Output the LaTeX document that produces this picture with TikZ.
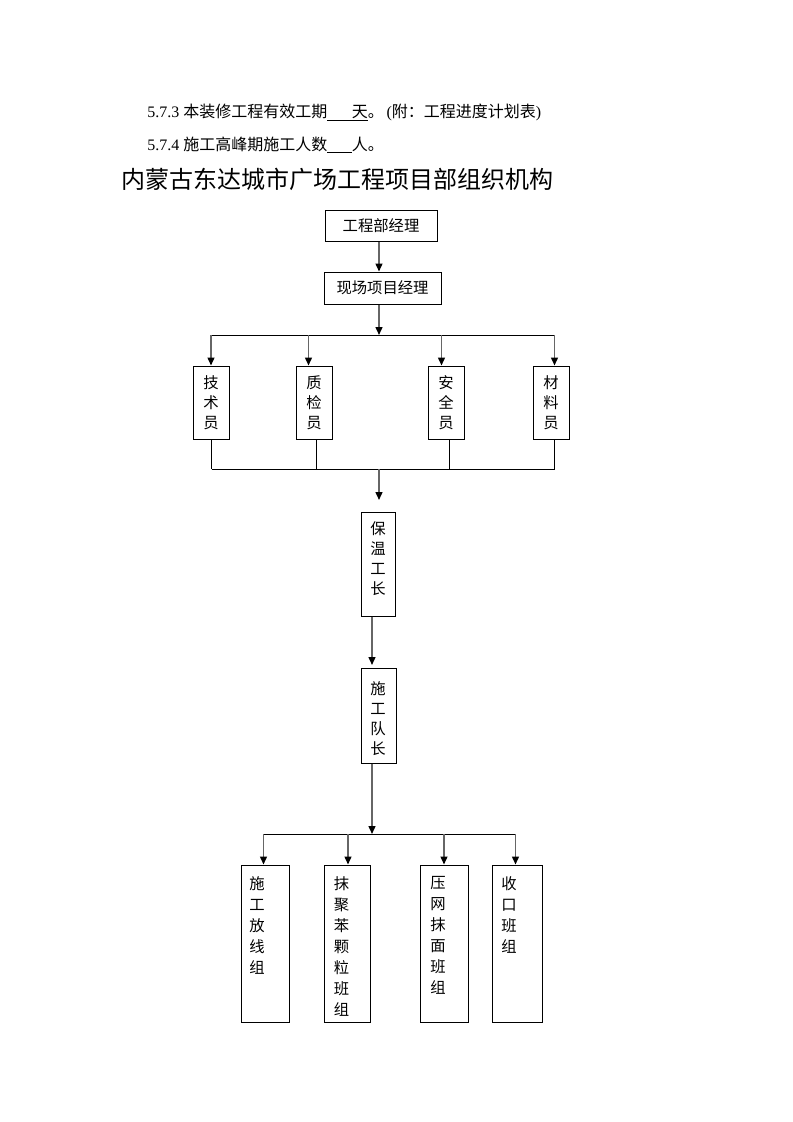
\documentclass[tikz,border=0pt]{standalone}
\usepackage{fontspec}
\setmainfont{Liberation Serif}
\newfontfamily\cjk{Noto Sans CJK SC}
\usetikzlibrary{arrows.meta}
\begin{document}
\begin{tikzpicture}[x=0.75pt,y=-0.75pt,
  box/.style={draw, line width=0.75pt, inner sep=0pt},
  arr/.style={-{Triangle[width=5.2pt,length=6pt,color=black]}, line width=1.2pt, draw=black!60},
  ln/.style={line width=0.75pt},
  hbox/.style={box, font=\cjk\fontsize{11.5}{14}\selectfont},
  vt/.style={font=\cjk\fontsize{11.5}{15}\selectfont, align=center, inner sep=0pt},
  vtb/.style={font=\cjk\fontsize{11.5}{15.75}\selectfont, align=center, inner sep=0pt},
  para/.style={font=\fontsize{12}{14}\selectfont, inner sep=0pt, anchor=base west}
]
\useasboundingbox (0,0) rectangle (793,1122);

% header text
\node[para] (l1) at (147,117) {5.7.3 {\cjk 本装修工程有效工期}\underline{\hspace{18.5pt}{\cjk 天}}{\cjk 。}\,({\cjk 附：工程进度计划表})};
\node[para] (l2) at (147,150) {5.7.4 {\cjk 施工高峰期施工人数}\underline{\hspace{18.5pt}}{\cjk 人。}};
\node[inner sep=0pt, anchor=base west, font=\cjk\fontsize{18}{20}\selectfont] (title) at (121,188) {内蒙古东达城市广场工程项目部组织机构};

% top boxes
\node[hbox, minimum width=84pt, minimum height=23.25pt] (gc) at (381,225.5) {工程部经理};
\node[hbox, minimum width=87.75pt, minimum height=24pt] (xc) at (382.5,288) {现场项目经理};

% staff boxes
\node[box, minimum width=27pt, minimum height=54.75pt] (js) at (211,402.5) {};
\node[box, minimum width=27pt, minimum height=54.75pt] (zj) at (314,402.5) {};
\node[box, minimum width=27pt, minimum height=54.75pt] (aq) at (446,402.5) {};
\node[box, minimum width=27pt, minimum height=54.75pt] (cl) at (551,402.5) {};
\node[vt] (tjs) at (211,403) {技\\术\\员};
\node[vt] (tzj) at (314,403) {质\\检\\员};
\node[vt] (taq) at (446,403) {安\\全\\员};
\node[vt] (tcl) at (551,403) {材\\料\\员};

% foremen
\node[box, minimum width=25.5pt, minimum height=78pt] (bw) at (378,564) {};
\node[vt] (tbw) at (378,558.5) {保\\温\\工\\长};
\node[box, minimum width=26.25pt, minimum height=71.25pt] (sd) at (378.5,715.5) {};
\node[vt] (tsd) at (378,719) {施\\工\\队\\长};

% team boxes
\node[box, minimum width=36pt, minimum height=117.75pt] (g1) at (265,943.5) {};
\node[box, minimum width=34.5pt, minimum height=117.75pt] (g2) at (347,943.5) {};
\node[box, minimum width=36pt, minimum height=117.75pt] (g3) at (444,943.5) {};
\node[box, minimum width=37.5pt, minimum height=117.75pt] (g4) at (517,943.5) {};
\node[vtb] (tg1) at (257,925) {施\\工\\放\\线\\组};
\node[vtb] (tg2) at (341.5,946) {抹\\聚\\苯\\颗\\粒\\班\\组};
\node[vtb] (tg3) at (438,935.5) {压\\网\\抹\\面\\班\\组};
\node[vtb] (tg4) at (509,914.5) {收\\口\\班\\组};

% coordinates
\coordinate (ax) at (379,0);
\coordinate (bus1) at (379,335);
\coordinate (b1a) at (211,335);
\coordinate (b1b) at (308.5,335);
\coordinate (b1c) at (441.5,335);
\coordinate (b1d) at (554.5,335);
\coordinate (c1a) at (211.5,469);
\coordinate (c1b) at (316.5,469);
\coordinate (c1c) at (449.5,469);
\coordinate (c1d) at (554.5,469);
\coordinate (bus2) at (379,469);
\coordinate (e2) at (379,500);
\coordinate (ax2) at (372,0);
\coordinate (e3) at (372,665);
\coordinate (bus3) at (372,834);
\coordinate (d1a) at (263.5,834);
\coordinate (d1b) at (348,834);
\coordinate (d1c) at (444,834);
\coordinate (d1d) at (515.5,834);

% connectors
\draw[arr] (gc.south -| ax) -- (xc.north -| ax);
\draw[arr] (xc.south -| ax) -- (bus1);
\draw[ln] (b1a) -- (b1d);
\draw[arr] (b1a) -- (js.north -| b1a);
\draw[arr] (b1b) -- (zj.north -| b1b);
\draw[arr] (b1c) -- (aq.north -| b1c);
\draw[arr] (b1d) -- (cl.north -| b1d);

\draw[ln] (js.south -| c1a) -- (c1a);
\draw[ln] (zj.south -| c1b) -- (c1b);
\draw[ln] (aq.south -| c1c) -- (c1c);
\draw[ln] (cl.south -| c1d) -- (c1d);
\draw[ln] (c1a) -- (c1d);
\draw[arr] (bus2) -- (e2);

\draw[arr] (bw.south -| ax2) -- (e3);
\draw[arr] (sd.south -| ax2) -- (bus3);
\draw[ln] (d1a) -- (d1d);
\draw[arr] (d1a) -- (g1.north -| d1a);
\draw[arr] (d1b) -- (g2.north -| d1b);
\draw[arr] (d1c) -- (g3.north -| d1c);
\draw[arr] (d1d) -- (g4.north -| d1d);
\end{tikzpicture}
\end{document}
